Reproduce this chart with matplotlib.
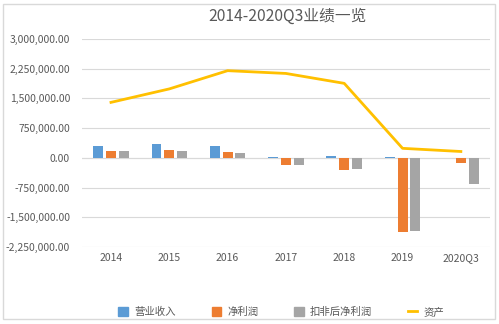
import matplotlib
matplotlib.use("Agg")
import matplotlib.pyplot as plt
import numpy as np
from matplotlib.patches import Rectangle
from matplotlib.lines import Line2D

plt.rcParams['font.family'] = ['Noto Sans CJK SC', 'DejaVu Sans']

categories = ['2014', '2015', '2016', '2017', '2018', '2019', '2020Q3']
revenue = [300000, 340000, 300000, 30000, 35000, 15000, 3000]
net_profit = [160000, 200000, 145000, -190000, -310000, -1880000, -140000]
net_profit_adj = [160000, 170000, 110000, -170000, -290000, -1850000, -660000]
assets = [1400000, 1740000, 2200000, 2130000, 1880000, 240000, 160000]
yticks = [-2250000, -1500000, -750000, 0, 750000, 1500000, 2250000, 3000000]
title = '2014-2020Q3业绩一览'
legend_labels = ['营业收入', '净利润', '扣非后净利润', '资产']

c_blue = '#5B9BD5'
c_orange = '#ED7D31'
c_gray = '#A5A5A5'
c_yellow = '#FFC000'
txt = '#595959'

fig = plt.figure(figsize=(4.99, 3.24), dpi=100)
fig.patches.append(Rectangle((0.007, 0.015), 0.985, 0.973, transform=fig.transFigure,
                             fill=False, edgecolor='#D9D9D9', linewidth=1))
ax = fig.add_axes([0.164, 0.2377, 0.818, 0.6420])

x = np.arange(len(categories))
w = 0.17
off = 0.22
ax.bar(x - off, revenue, w, color=c_blue, zorder=3)
ax.bar(x, net_profit, w, color=c_orange, zorder=3)
ax.bar(x + off, net_profit_adj, w, color=c_gray, zorder=3)
ax.plot(x, assets, color=c_yellow, linewidth=2, zorder=4)

ax.set_ylim(-2250000, 3000000)
ax.set_xlim(-0.5, len(categories) - 0.5)
ax.set_yticks(yticks)
ax.set_yticklabels([f'{v:,.2f}' for v in yticks])
ax.set_xticks(x)
ax.set_xticklabels(categories)
ax.tick_params(axis='both', length=0, labelsize=7.5, colors=txt)
ax.tick_params(axis='x', pad=4.5)
ax.tick_params(axis='y', pad=8.5)
ax.grid(axis='y', color='#D9D9D9', linewidth=0.8, zorder=0)
for s in ax.spines.values():
    s.set_visible(False)
ax.axhline(0, color='#D9D9D9', linewidth=0.8, zorder=2)

fig.text(0.577, 0.95, title, ha='center', va='center', fontsize=11.3, color=txt)

handles = [Rectangle((0, 0), 1, 1, color=c_blue),
           Rectangle((0, 0), 1, 1, color=c_orange),
           Rectangle((0, 0), 1, 1, color=c_gray),
           Line2D([0], [0], color=c_yellow, linewidth=2)]
fig.legend(handles, legend_labels, loc='center', bbox_to_anchor=(0.564, 0.037), ncol=4,
           frameon=False, fontsize=7.5, labelcolor=txt, handlelength=0.9, handleheight=0.9,
           columnspacing=3.45, handletextpad=0.6, borderpad=0.2)

fig.savefig('out.png', dpi=100)
